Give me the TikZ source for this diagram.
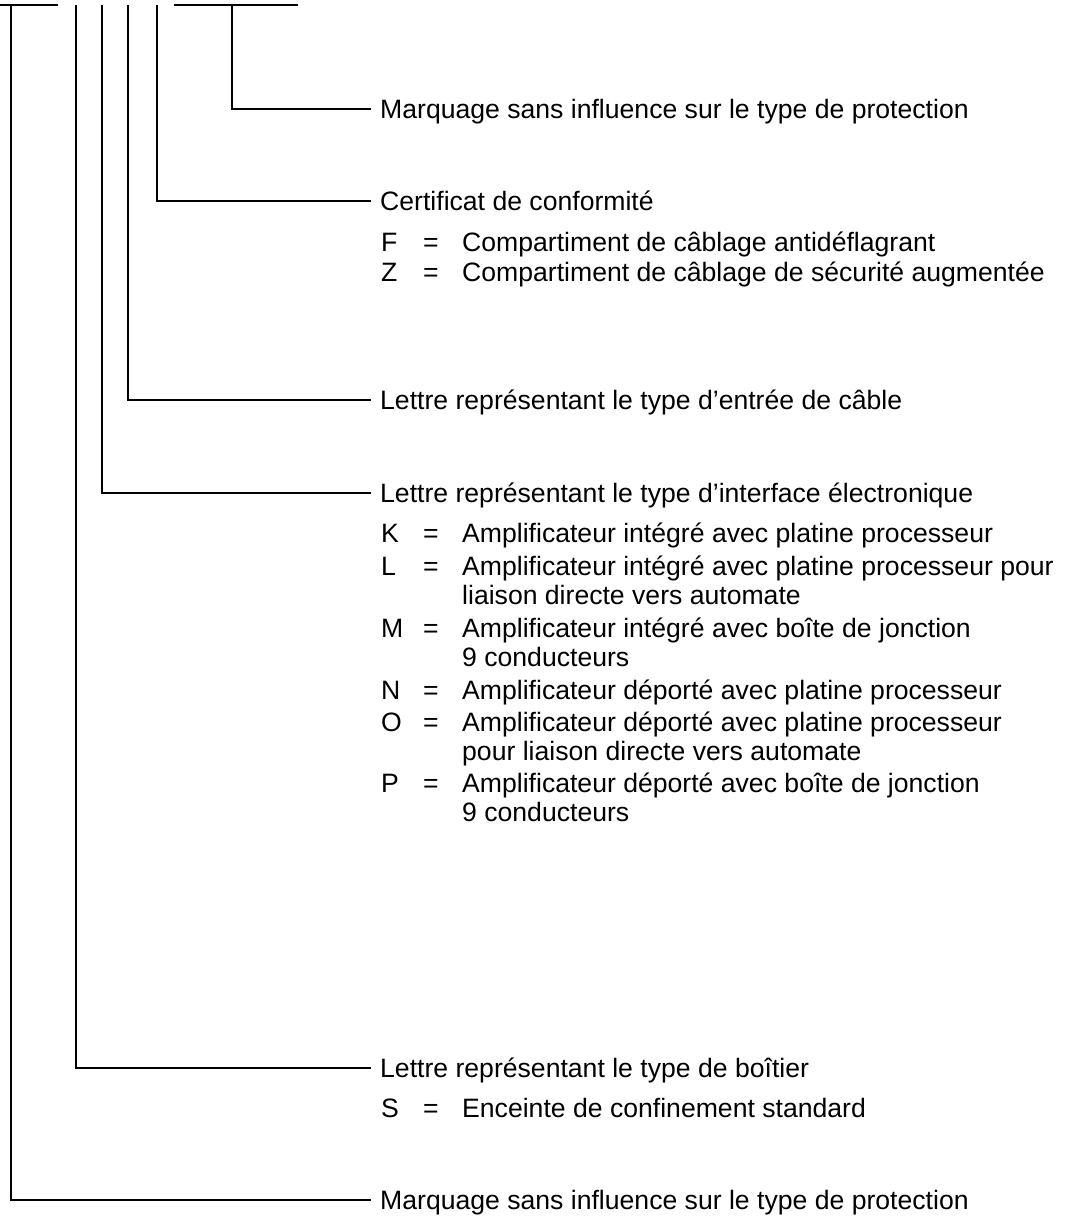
\documentclass[tikz,border=0pt]{standalone}
\usepackage{fontspec}
\setmainfont{Liberation Sans}
\begin{document}
\begin{tikzpicture}[x=1pt,y=-1pt,
  conn/.style={line width=2.2pt, line join=miter},
  txt/.style={anchor=base west, inner sep=0pt, font=\fontsize{26.6}{29.3}\selectfont},
  hdr/.style={txt}]
\useasboundingbox (0,0) rectangle (1066,1218);
% top bars
\coordinate (bl0) at (0,5);   \coordinate (bl1) at (58,5);
\coordinate (br0) at (174,5); \coordinate (br1) at (298,5);
\draw[conn] (bl0) -- (bl1);
\draw[conn] (br0) -- (br1);
% tops of the verticals
\coordinate (v1) at (11,5);
\coordinate (v2) at (76,5);
\coordinate (v3) at (102,5);
\coordinate (v4) at (128,5);
\coordinate (v5) at (157,5);
\coordinate (v6) at (232,5);
% ends of the horizontals
\coordinate (e6) at (371,109);
\coordinate (e5) at (371,201);
\coordinate (e4) at (371,400);
\coordinate (e3) at (371,493);
\coordinate (e2) at (371,1068);
\coordinate (e1) at (371,1200);
% headers
\node[hdr] (h6) at ([xshift=9pt,yshift=-9.5pt]e6) {Marquage sans influence sur le type de protection};
\node[hdr] (h5) at ([xshift=9pt,yshift=-9.5pt]e5) {Certificat de conformité};
\node[hdr] (h4) at ([xshift=9pt,yshift=-9.5pt]e4) {Lettre représentant le type d’entrée de câble};
\node[hdr] (h3) at ([xshift=9pt,yshift=-9.5pt]e3) {Lettre représentant le type d’interface électronique};
\node[hdr] (h2) at ([xshift=9pt,yshift=-9.5pt]e2) {Lettre représentant le type de boîtier};
\node[hdr] (h1) at ([xshift=9pt,yshift=-9.5pt]e1) {Marquage sans influence sur le type de protection};
% connectors
\draw[conn] (v6) |- (e6);
\draw[conn] (v5) |- (e5);
\draw[conn] (v4) |- (e4);
\draw[conn] (v3) |- (e3);
\draw[conn] (v2) |- (e2);
\draw[conn] (v1) |- (e1);
% certificate list
\node[txt] (kF) at (381,251.5) {F};
\node[txt] (qF) at (423,251.5) {=};
\node[txt] (dF) at (462,251.5) {Compartiment de câblage antidéflagrant};
\node[txt] (kZ) at (381,281.5) {Z};
\node[txt] (qZ) at (423,281.5) {=};
\node[txt] (dZ) at (462,281.5) {Compartiment de câblage de sécurité augmentée};
% interface list
\node[txt] (kK) at (381,542.5) {K};
\node[txt] (qK) at (423,542.5) {=};
\node[txt] (dK) at (462,542.5) {Amplificateur intégré avec platine processeur};
\node[txt] (kL) at (381,575.5) {L};
\node[txt] (qL) at (423,575.5) {=};
\node[txt] (dL) at (462,575.5) {Amplificateur intégré avec platine processeur pour};
\node[txt] (dL2) at (462,604.5) {liaison directe vers automate};
\node[txt] (kM) at (381,637.5) {M};
\node[txt] (qM) at (423,637.5) {=};
\node[txt] (dM) at (462,637.5) {Amplificateur intégré avec boîte de jonction};
\node[txt] (dM2) at (462,666.5) {9 conducteurs};
\node[txt] (kN) at (381,699.5) {N};
\node[txt] (qN) at (423,699.5) {=};
\node[txt] (dN) at (462,699.5) {Amplificateur déporté avec platine processeur};
\node[txt] (kO) at (381,731.5) {O};
\node[txt] (qO) at (423,731.5) {=};
\node[txt] (dO) at (462,731.5) {Amplificateur déporté avec platine processeur};
\node[txt] (dO2) at (462,760.5) {pour liaison directe vers automate};
\node[txt] (kP) at (381,792.5) {P};
\node[txt] (qP) at (423,792.5) {=};
\node[txt] (dP) at (462,792.5) {Amplificateur déporté avec boîte de jonction};
\node[txt] (dP2) at (462,821.5) {9 conducteurs};
% housing list
\node[txt] (kS) at (381,1117.5) {S};
\node[txt] (qS) at (423,1117.5) {=};
\node[txt] (dS) at (462,1117.5) {Enceinte de confinement standard};
\end{tikzpicture}
\end{document}
